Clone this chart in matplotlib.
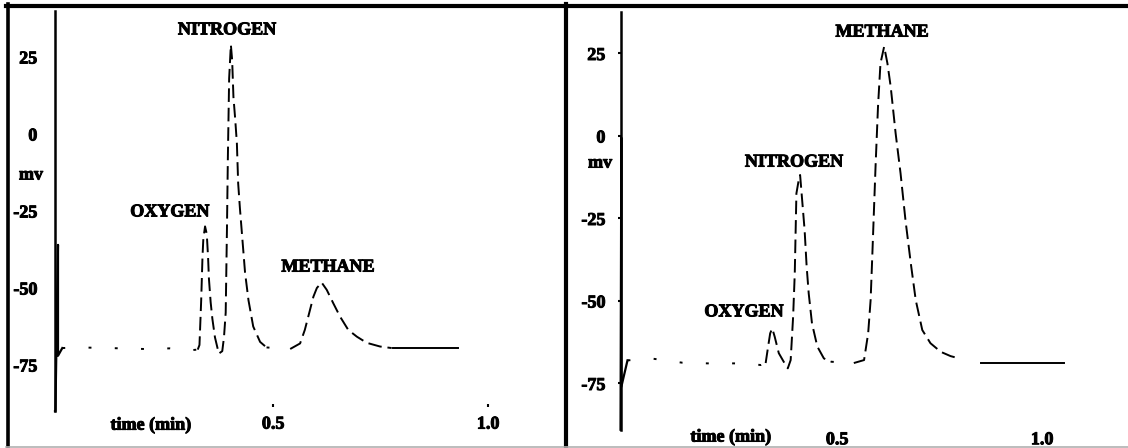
import matplotlib
matplotlib.use("Agg")
import matplotlib.pyplot as plt
from matplotlib.lines import Line2D
import matplotlib.patheffects as pe

plt.rcParams['font.family'] = ['Liberation Serif', 'DejaVu Serif']
plt.rcParams['font.weight'] = 'bold'
plt.rcParams['path.simplify'] = False

# ---- datos: panel izquierdo ----
left_spike_t = [-0.007, -0.007, -0.006, 0.0, 0.0, 0.01]
left_spike_mv = [40, -90, -90, -36, -72, -69.5]

left_t = [0.01, 0.05, 0.12, 0.20, 0.26, 0.30, 0.325, 0.329, 0.333, 0.336, 0.338,
          0.342, 0.346, 0.349, 0.351, 0.355, 0.359, 0.365, 0.374, 0.382, 0.386,
          0.390, 0.393, 0.395, 0.398, 0.402, 0.405, 0.408, 0.412, 0.416, 0.419,
          0.423, 0.427, 0.435, 0.443, 0.454, 0.470, 0.485, 0.540, 0.563, 0.574,
          0.582, 0.594, 0.602, 0.613, 0.625, 0.640, 0.656, 0.675, 0.695, 0.718,
          0.749, 0.776]
left_mv = [-69.5, -69.3, -69.5, -69.8, -69.6, -70.3, -70.0, -68.5, -54, -40, -34,
           -30, -32.5, -40, -47, -54.6, -60, -66, -71.3, -70.5, -66,
           -58, -30, -8, 18, 29, 24, 12, 5, -3, -16,
           -24, -31, -45, -54, -62.5, -67.5, -69.3, -69.8, -68, -63.6,
           -59.3, -52.8, -50, -48.2, -50.6, -54.9, -59.3, -63.6, -65.8, -67.8,
           -69, -69.5]
# tramos: (inicio, fin, linea base?)
left_segments = [(0, 6, True), (6, 37, False), (37, 38, True), (38, 52, False)]

left_flat_t = [0.78, 0.931]
left_flat_mv = [-69.5, -69.5]

# ---- datos: panel derecho ----
right_spike_t = [-0.028, -0.028, -0.026, -0.026, -0.011]
right_spike_mv = [37.5, -89, -0.5, -76, -68]

right_t = [-0.011, 0.046, 0.123, 0.184, 0.249, 0.290, 0.314, 0.326, 0.332, 0.337,
           0.342, 0.348, 0.358, 0.370, 0.380, 0.387, 0.393, 0.397, 0.401, 0.406,
           0.410, 0.415, 0.421, 0.426, 0.431, 0.439, 0.452, 0.468, 0.485, 0.541,
           0.566, 0.576, 0.582, 0.586, 0.594, 0.600, 0.606, 0.615, 0.623, 0.631,
           0.643, 0.655, 0.667, 0.680, 0.692, 0.708, 0.728, 0.753, 0.777, 0.798]
right_mv = [-68, -67.4, -68.7, -68.9, -68.9, -69.1, -69.4, -68.8, -63.8, -59.8,
            -58.3, -60.8, -65.8, -68.4, -70.4, -67.9, -54.7, -41.6, -17.4, -13.8,
            -11.8, -19.4, -28.5, -39.6, -47.7, -56.8, -63.8, -67.4, -68.4, -68.8,
            -67.9, -59.8, -49.7, -36.6, -9.3, 8.9, 22, 27.1, 22, 14.9,
            0.8, -11.3, -25.5, -38.6, -49.7, -58.8, -62.8, -65.4, -66.7, -67.4]
right_segments = [(0, 7, True), (7, 28, False), (28, 29, True), (29, 49, False)]

right_flat_t = [0.85, 1.054]
right_flat_mv = [-68.7, -68.7]

y_ticks = [25, 0, -25, -50, -75]
y_tick_labels = ['25', '0', '-25', '-50', '-75']
x_ticks = [0.5, 1.0]
x_tick_labels = ['0.5', '1.0']

left_peaks = ['NITROGEN', 'OXYGEN', 'METHANE']
left_peak_t = [0.393, 0.260, 0.628]
left_peak_mv = [33.8, -25.3, -43.2]
right_peaks = ['METHANE', 'NITROGEN', 'OXYGEN']
right_peak_t = [0.610, 0.395, 0.273]
right_peak_mv = [31.5, -7.9, -53.3]

W, H = 1128, 448
FS = 13
bold_fx = [pe.withStroke(linewidth=0.7, foreground='black')]

fig = plt.figure(figsize=(W / 100, H / 100), dpi=100)
fig.patch.set_facecolor('white')


def px_axes(x0, x1, y0, y1):
    # y0 = borde superior en pixeles, y1 = borde inferior
    return fig.add_axes([x0 / W, (H - y1) / H, (x1 - x0) / W, (y1 - y0) / H])


def panel(ax, spike_t, spike_mv, t, mv, segments, flat_t, flat_mv, names, nt, nmv,
          xlim, ylim, yspine_x, ytick_len, ypad, xspine_y, xtick_len, xpad,
          mv_pos, time_pos):
    ax.set_xlim(*xlim)
    ax.set_ylim(*ylim)
    # pico de inyeccion: trazo vertical largo y luego la vuelta a la linea base
    ax.plot(spike_t[:2], spike_mv[:2], color='black', lw=1.8, zorder=4)
    ax.plot(spike_t[1:], spike_mv[1:], color='black', lw=1.6, zorder=4)
    for i0, i1, base in segments:
        ls = (0, (1.5, 12)) if base else (0, (7, 3))
        ax.plot(t[i0:i1 + 1], mv[i0:i1 + 1], color='black', lw=1.4, linestyle=ls)
    ax.plot(flat_t, flat_mv, color='black', lw=1.4)
    for name, x, y in zip(names, nt, nmv):
        ax.text(x, y, name, ha='center', va='center', fontsize=FS,
                fontweight='bold', path_effects=bold_fx)
    for s in ['top', 'right']:
        ax.spines[s].set_visible(False)
    ax.spines['left'].set_position(('data', yspine_x))
    ax.spines['left'].set_color('none')
    ax.spines['bottom'].set_position(('data', xspine_y))
    ax.spines['bottom'].set_color('none')
    ax.set_yticks(y_ticks)
    ax.set_yticklabels(y_tick_labels, fontsize=FS, fontweight='bold')
    ax.set_xticks(x_ticks)
    ax.set_xticklabels(x_tick_labels, fontsize=FS, fontweight='bold')
    for lab in ax.get_xticklabels() + ax.get_yticklabels():
        lab.set_path_effects(bold_fx)
    ax.tick_params(axis='y', length=ytick_len, width=1.5, pad=ypad, direction='out')
    ax.tick_params(axis='x', length=xtick_len, width=1.5, pad=xpad, direction='in')
    ax.text(mv_pos[0], mv_pos[1], 'mv', ha='center', va='center', fontsize=FS,
            fontweight='bold', path_effects=bold_fx)
    ax.text(time_pos[0], time_pos[1], 'time (min)', ha='center', va='center',
            fontsize=FS, fontweight='bold', path_effects=bold_fx)
    ax.patch.set_alpha(0)


# panel izquierdo: x_px = 58 + 430 t, y_px = 134 - 3.08 mv
ax1 = px_axes(10, 560, 10, 445)
panel(ax1, left_spike_t, left_spike_mv, left_t, left_mv, left_segments,
      left_flat_t, left_flat_mv, left_peaks, left_peak_t, left_peak_mv,
      ((10 - 58) / 430, (560 - 58) / 430), ((134 - 445) / 3.08, (134 - 10) / 3.08),
      0.0, 0, 15, -88.5, 2, 6.5, (-0.063, -13.3), (0.216, -94.5))

# panel derecho: x_px = 632 + 410 t, y_px = 136 - 3.3 mv
ax2 = px_axes(572, 1120, 10, 445)
panel(ax2, right_spike_t, right_spike_mv, right_t, right_mv, right_segments,
      right_flat_t, right_flat_mv, right_peaks, right_peak_t, right_peak_mv,
      ((572 - 632) / 410, (1120 - 632) / 410), ((136 - 445) / 3.3, (136 - 10) / 3.3),
      -0.028, 2, 9, -88, 0, 3.5, (-0.078, -8.2), (0.241, -91.2))


# marcos negros
def hline(x0, x1, y, lw, color='black'):
    fig.add_artist(Line2D([x0 / W, x1 / W], [1 - y / H, 1 - y / H],
                          transform=fig.transFigure, color=color, lw=lw))


def vline(x, y0, y1, lw, color='black'):
    fig.add_artist(Line2D([x / W, x / W], [1 - y0 / H, 1 - y1 / H],
                          transform=fig.transFigure, color=color, lw=lw))


hline(6, W, 6, 3.0)
vline(7.5, 4, H, 2.6)
vline(566, 4, H, 3.0)
hline(6, W, 447, 1.2, color='#b0b0b0')

fig.savefig('out.png', dpi=100, facecolor='white')
